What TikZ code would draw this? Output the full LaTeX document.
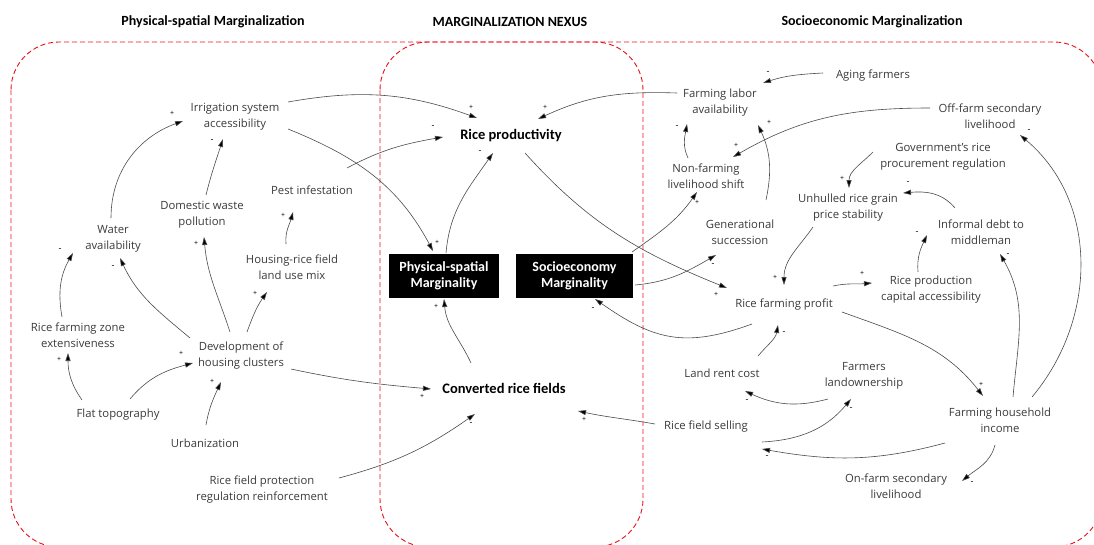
\documentclass[tikz,border=0pt]{standalone}
\usepackage{fontspec}
\setmainfont{Open Sans}
\newfontfamily\boldfam{Carlito}
\usetikzlibrary{arrows.meta}
\definecolor{lblgray}{HTML}{3A3A3A}
\definecolor{lnkgray}{HTML}{4A4A4A}
\definecolor{boxred}{HTML}{E8101A}
\begin{document}
\begin{tikzpicture}[x=1pt,y=1pt,
  lbl/.style={font=\fontsize{11.3}{16}\selectfont, text=lblgray, align=center, inner sep=1pt},
  bld/.style={font=\boldfam\bfseries\fontsize{14.5}{16}\selectfont, text=black, align=center, inner sep=1pt},
  hdr/.style={font=\boldfam\bfseries\fontsize{14}{16}\selectfont, text=black, inner sep=1pt},
  blk/.style={fill=black, text=white, font=\boldfam\bfseries\fontsize{14}{15.5}\selectfont, align=center, minimum height=44pt, inner sep=0pt},
  sgn/.style={font=\fontsize{7}{7}\selectfont, text=black, inner sep=0pt},
  sgm/.style={font=\fontsize{9}{9}\selectfont, text=black, inner sep=0pt},
  arr/.style={draw=lnkgray, line width=0.6pt, -{Triangle[length=8pt,width=5pt,fill=black]}},
  zone/.style={draw=boxred, dash pattern=on 5pt off 3pt, line width=0.9pt, rounded corners=48pt}
]
\useasboundingbox (0,0) rectangle (1094,-544);
\clip (0,0) rectangle (1094,-544);

% zones
\draw[zone] (11,-42) rectangle (1102,-547);
\draw[zone] (380,-42) rectangle (643,-547);

% headers
\node[hdr] (h1) at (213,-22) {Physical-spatial Marginalization};
\node[hdr] (h2) at (510,-22) {MARGINALIZATION NEXUS};
\node[hdr] (h3) at (872,-22) {Socioeconomic Marginalization};

% left nodes
\node[lbl] (irr) at (235,-117) {Irrigation system\\accessibility};
\node[lbl] (wat) at (113,-239) {Water\\availability};
\node[lbl] (dom) at (202,-215) {Domestic waste\\pollution};
\node[lbl] (pest) at (312,-190) {Pest infestation};
\node[lbl] (hrm) at (292,-267) {Housing-rice field\\land use mix};
\node[lbl] (rfz) at (78,-335) {Rice farming zone\\extensiveness};
\node[lbl] (dev) at (241,-356) {Development of\\housing clusters};
\node[lbl] (flat) at (118,-415) {Flat topography};
\node[lbl] (urb) at (205,-443) {Urbanization};
\node[lbl] (prot) at (262,-490) {Rice field protection\\regulation reinforcement};

% middle nodes
\node[bld] (rp) at (511,-136) {Rice productivity};
\node[blk, minimum width=110pt] (psm) at (444,-276) {Physical-spatial\\Marginality};
\node[blk, minimum width=117pt] (sem) at (574.5,-276) {Socioeconomy\\Marginality};
\node[bld] (crf) at (504,-388) {Converted rice fields};

% right nodes
\node[lbl] (aging) at (873,-76) {Aging farmers};
\node[lbl] (fla) at (720,-103) {Farming labor\\availability};
\node[lbl] (off) at (990,-116) {Off-farm secondary\\livelihood};
\node[lbl] (nfl) at (706,-176) {Non-farming\\livelihood shift};
\node[lbl] (gov) at (943,-157) {Government's rice\\procurement regulation};
\node[lbl] (unh) at (848,-208) {Unhulled rice grain\\price stability};
\node[lbl] (gen) at (740,-232) {Generational\\succession};
\node[lbl] (debt) at (981,-232) {Informal debt to\\middleman};
\node[lbl] (cap) at (931,-290) {Rice production\\capital accessibility};
\node[lbl] (rfp) at (784,-305) {Rice farming profit};
\node[lbl] (rent) at (722,-373) {Land rent cost};
\node[lbl] (own) at (864,-376) {Farmers\\landownership};
\node[lbl] (sell) at (706,-427) {Rice field selling};
\node[lbl] (fhi) at (1000,-420) {Farming household\\income};
\node[lbl] (onf) at (896,-486) {On-farm secondary\\livelihood};

% left connectors
\draw[arr] ([shift={(-2,21)}]wat.center) to[out=90,in=200] ([shift={(-52,-4)}]irr.center);
\draw[arr] ([shift={(4,20)}]dom.center) to[out=76,in=-108] ([shift={(-12,-22)}]irr.center);
\draw[arr] ([shift={(-11,24)}]dev.center) to[out=108,in=-85] ([shift={(2,-22)}]dom.center);
\draw[arr] ([shift={(-51,18)}]dev.center) to[out=140,in=-65] ([shift={(7,-19)}]wat.center);
\draw[arr] ([shift={(6,24)}]dev.center) to[out=70,in=-125] ([shift={(-25,-25)}]hrm.center);
\draw[arr] ([shift={(-6,23)}]hrm.center) to[out=95,in=-105] ([shift={(-19,-22)}]pest.center);
\draw[arr] ([shift={(-16,18)}]rfz.center) to[out=100,in=-120] ([shift={(-40,-14)}]wat.center);
\draw[arr] ([shift={(-36,15)}]flat.center) to[out=125,in=-90] ([shift={(-10,-18)}]rfz.center);
\draw[arr] ([shift={(12,16)}]flat.center) to[out=50,in=195] ([shift={(-48,-7)}]dev.center);
\draw[arr] ([shift={(1,18)}]urb.center) to[out=80,in=-115] ([shift={(-20,-26)}]dev.center);
\draw[arr] ([shift={(50,-13)}]dev.center) to[out=-12,in=175] ([shift={(-73,-1)}]crf.center);
\draw[arr] ([shift={(77,12)}]prot.center) to[out=15,in=-145] ([shift={(-29,-26)}]crf.center);
\draw[arr] ([shift={(53,15)}]irr.center) to[out=10,in=160] ([shift={(-34,18)}]rp.center);
\draw[arr] ([shift={(53,-12)}]irr.center) to[out=-22,in=118] ([shift={(-11,25)}]psm.center);
\draw[arr] ([shift={(35,22)}]pest.center) to[out=28,in=190] ([shift={(-68,-1)}]rp.center);

% middle connectors
\draw[arr] ([shift={(2,23)}]psm.center) to[out=85,in=-125] ([shift={(-18,-17)}]rp.center);
\draw[arr] ([shift={(-33,25)}]crf.center) to[out=115,in=-85] ([shift={(0,-23)}]psm.center);
\draw[arr] ([shift={(14,-17)}]rp.center) to[out=-48,in=158] ([shift={(-57,17)}]rfp.center);
\draw[arr] ([shift={(57.5,24)}]sem.center) to[out=35,in=-125] ([shift={(-9,-16)}]nfl.center);
\draw[arr] ([shift={(60.5,-9)}]sem.center) to[out=5,in=-150] ([shift={(-24,-23)}]gen.center);
\draw[arr] ([shift={(-32,-19)}]rfp.center) to[out=200,in=-35,looseness=1.15] ([shift={(20.5,-23)}]sem.center);

% right connectors
\draw[arr] ([shift={(-50,3)}]aging.center) to[out=183,in=18] ([shift={(43,20)}]fla.center);
\draw[arr] ([shift={(-43,10)}]fla.center) to[out=178,in=25] ([shift={(27,17)}]rp.center);
\draw[arr] ([shift={(-18,18)}]nfl.center) to[out=115,in=-100] ([shift={(-33,-21)}]fla.center);
\draw[arr] ([shift={(26,32)}]gen.center) to[out=78,in=-65] ([shift={(38,-22)}]fla.center);
\draw[arr] ([shift={(-60,8)}]off.center) to[out=180,in=30] ([shift={(27,19)}]nfl.center);
\draw[arr] ([shift={(-70,5)}]gov.center) to[out=-135,in=90] ([shift={(1,20)}]unh.center);
\draw[arr] ([shift={(-26,24)}]debt.center) to[out=130,in=5] ([shift={(55,15)}]unh.center);
\draw[arr] ([shift={(-13,18)}]cap.center) to[out=95,in=-115] ([shift={(-54,-3)}]debt.center);
\draw[arr] ([shift={(-35,-19)}]unh.center) to[out=-125,in=90] ([shift={(0,20)}]rfp.center);
\draw[arr] ([shift={(49,19)}]rfp.center) to[out=12,in=185] ([shift={(-59,7)}]cap.center);
\draw[arr] ([shift={(58,-7)}]rfp.center) to[out=-20,in=128] ([shift={(-17,24)}]fhi.center);
\draw[arr] ([shift={(13,23)}]fhi.center) to[out=85,in=-60] ([shift={(19,-22)}]debt.center);
\draw[arr] ([shift={(32,23)}]fhi.center) to[out=50,in=-40] ([shift={(30,-19)}]off.center);
\draw[arr] ([shift={(-55,-23)}]fhi.center) to[out=195,in=-10] ([shift={(56,-22)}]sell.center);
\draw[arr] ([shift={(-5,-25)}]fhi.center) to[out=-105,in=40] ([shift={(66,5)}]onf.center);
\draw[arr] ([shift={(56,-15)}]sell.center) to[out=3,in=-130] ([shift={(-13,-23)}]own.center);
\draw[arr] ([shift={(-36,-23)}]own.center) to[out=195,in=-25] ([shift={(23,-18)}]rent.center);
\draw[arr] ([shift={(36,17)}]rent.center) to[out=50,in=-100] ([shift={(-6,-20)}]rfp.center);
\draw[arr] ([shift={(-51,3)}]sell.center) to[out=170,in=-12] ([shift={(74,-23)}]crf.center);

% polarity signs
\node[sgn] (s1) at (172,-113) {+};
\node[sgm] (s2) at (212,-141) {-};
\node[sgn] (s3) at (196,-243) {+};
\node[sgm] (s4) at (113,-267) {-};
\node[sgn] (s5) at (255,-293) {+};
\node[sgn] (s6) at (283,-215) {+};
\node[sgm] (s7) at (60,-250) {-};
\node[sgn] (s8) at (59,-359) {+};
\node[sgn] (s9) at (181,-353) {+};
\node[sgn] (s10) at (212,-381) {+};
\node[sgn] (s11) at (422,-396) {+};
\node[sgm] (s12) at (471,-424) {-};
\node[sgn] (s13) at (471,-107) {+};
\node[sgn] (s14) at (437,-242) {+};
\node[sgm] (s15) at (433,-127) {-};
\node[sgm] (s16) at (480,-152) {-};
\node[sgn] (s17) at (436,-306) {+};
\node[sgn] (s18) at (716,-294) {+};
\node[sgn] (s19) at (697,-202) {+};
\node[sgm] (s20) at (713,-265) {-};
\node[sgm] (s21) at (593,-309) {-};
\node[sgm] (s22) at (768,-73) {-};
\node[sgn] (s23) at (545,-107) {+};
\node[sgm] (s24) at (677,-127) {-};
\node[sgn] (s25) at (769,-122) {+};
\node[sgn] (s26) at (736,-145) {+};
\node[sgn] (s27) at (842,-178) {+};
\node[sgm] (s28) at (908,-183) {-};
\node[sgm] (s29) at (917,-233) {-};
\node[sgn] (s30) at (775,-277) {+};
\node[sgn] (s31) at (862,-273) {+};
\node[sgn] (s32) at (981,-384) {+};
\node[sgm] (s33) at (1008,-255) {-};
\node[sgm] (s34) at (1029,-131) {-};
\node[sgm] (s35) at (767,-457) {-};
\node[sgm] (s36) at (972,-483) {-};
\node[sgm] (s37) at (851,-409) {-};
\node[sgm] (s38) at (747,-401) {-};
\node[sgm] (s39) at (784,-333) {-};
\node[sgn] (s40) at (584,-419) {+};
\end{tikzpicture}
\end{document}
